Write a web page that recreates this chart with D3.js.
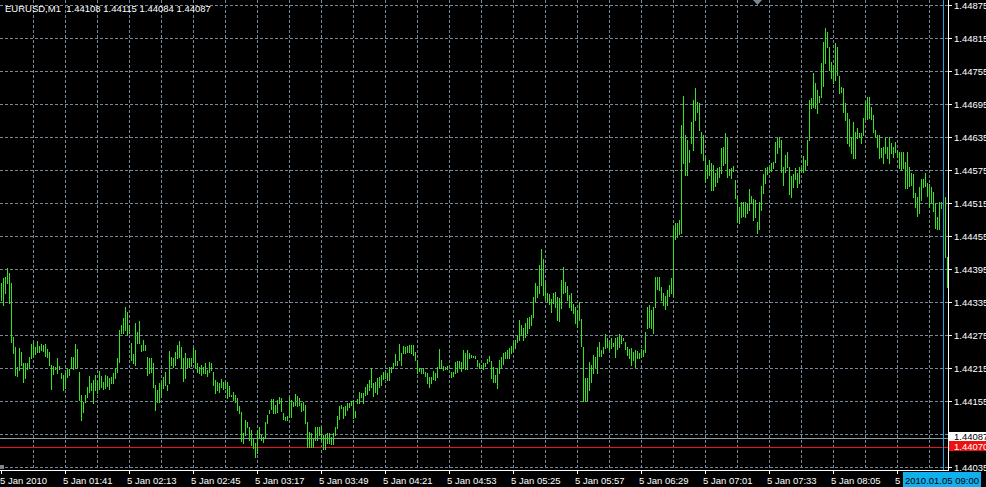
<!DOCTYPE html>
<html>
<head>
<meta charset="utf-8">
<script src="https://cdn.jsdelivr.net/npm/d3@7"></script>
<style>
  html, body { margin: 0; padding: 0; background: #000; overflow: hidden; }
  svg { display: block; }
  text { font-family: "Liberation Sans", Arial, sans-serif; font-size: 9.5px; }
</style>
</head>
<body>
<svg width="986" height="487"></svg>
<script>
// one minute bars, 5 Jan 2010 from 01:09
var highs = [
1.44370,1.44379,1.44381,1.44398,1.44389,1.44370,1.44272,1.44254,1.44218,1.44252,
1.44245,1.44225,1.44225,1.44225,1.44236,1.44260,1.44263,1.44254,1.44265,1.44256,
1.44260,1.44258,1.44260,1.44251,1.44245,1.44221,1.44220,1.44218,1.44234,1.44220,
1.44207,1.44203,1.44207,1.44216,1.44214,1.44236,1.44236,1.44260,1.44251,1.44209,
1.44167,1.44154,1.44167,1.44182,1.44202,1.44189,1.44194,1.44203,1.44192,1.44211,
1.44202,1.44191,1.44203,1.44202,1.44198,1.44200,1.44207,1.44216,1.44234,1.44285,
1.44294,1.44307,1.44327,1.44318,1.44294,1.44261,1.44241,1.44298,1.44281,1.44301,
1.44258,1.44267,1.44258,1.44236,1.44234,1.44234,1.44225,1.44185,1.44176,1.44189,
1.44191,1.44200,1.44209,1.44185,1.44247,1.44236,1.44234,1.44245,1.44258,1.44265,
1.44254,1.44234,1.44243,1.44234,1.44234,1.44234,1.44252,1.44249,1.44225,1.44218,
1.44221,1.44218,1.44225,1.44212,1.44227,1.44225,1.44209,1.44194,1.44191,1.44189,
1.44196,1.44191,1.44191,1.44191,1.44183,1.44167,1.44172,1.44167,1.44162,1.44147,
1.44136,1.44098,1.44122,1.44118,1.44109,1.44104,1.44089,1.44080,1.44104,1.44109,
1.44095,1.44091,1.44118,1.44131,1.44140,1.44160,1.44160,1.44149,1.44158,1.44163,
1.44162,1.44134,1.44127,1.44129,1.44163,1.44158,1.44154,1.44169,1.44165,1.44162,
1.44153,1.44154,1.44149,1.44118,1.44100,1.44098,1.44089,1.44109,1.44109,1.44109,
1.44109,1.44095,1.44095,1.44098,1.44098,1.44091,1.44098,1.44109,1.44129,1.44147,
1.44149,1.44145,1.44147,1.44153,1.44153,1.44156,1.44158,1.44138,1.44160,1.44172,
1.44171,1.44171,1.44182,1.44187,1.44194,1.44216,1.44189,1.44191,1.44198,1.44200,
1.44203,1.44209,1.44209,1.44207,1.44218,1.44218,1.44225,1.44241,1.44229,1.44260,
1.44243,1.44256,1.44254,1.44256,1.44258,1.44258,1.44258,1.44245,1.44231,1.44216,
1.44214,1.44216,1.44209,1.44207,1.44200,1.44200,1.44211,1.44207,1.44218,1.44251,
1.44231,1.44220,1.44218,1.44220,1.44220,1.44209,1.44209,1.44227,1.44229,1.44229,
1.44227,1.44249,1.44243,1.44249,1.44243,1.44240,1.44238,1.44238,1.44231,1.44225,
1.44221,1.44225,1.44225,1.44232,1.44238,1.44229,1.44218,1.44203,1.44216,1.44231,
1.44236,1.44243,1.44245,1.44249,1.44252,1.44256,1.44261,1.44267,1.44276,1.44303,
1.44294,1.44289,1.44298,1.44307,1.44309,1.44312,1.44345,1.44370,1.44365,1.44403,
1.44432,1.44414,1.44370,1.44352,1.44350,1.44341,1.44352,1.44354,1.44345,1.44343,
1.44376,1.44399,1.44372,1.44365,1.44349,1.44352,1.44332,1.44327,1.44321,1.44336,
1.44305,1.44254,1.44198,1.44198,1.44227,1.44221,1.44240,1.44236,1.44254,1.44263,
1.44249,1.44254,1.44278,1.44271,1.44263,1.44271,1.44261,1.44271,1.44272,1.44278,
1.44274,1.44271,1.44263,1.44254,1.44251,1.44252,1.44245,1.44249,1.44247,1.44243,
1.44251,1.44249,1.44281,1.44327,1.44330,1.44321,1.44327,1.44381,1.44381,1.44381,
1.44363,1.44352,1.44347,1.44358,1.44367,1.44379,1.44470,1.44479,1.44479,1.44485,
1.44657,1.44710,1.44639,1.44630,1.44612,1.44663,1.44703,1.44724,1.44699,1.44697,
1.44644,1.44639,1.44599,1.44584,1.44594,1.44588,1.44584,1.44570,1.44579,1.44581,
1.44615,1.44617,1.44643,1.44634,1.44577,1.44579,1.44583,1.44557,1.44528,1.44508,
1.44517,1.44517,1.44517,1.44516,1.44541,1.44528,1.44523,1.44521,1.44481,1.44517,
1.44546,1.44568,1.44579,1.44581,1.44581,1.44588,1.44590,1.44626,1.44634,1.44635,
1.44630,1.44581,1.44603,1.44608,1.44581,1.44565,1.44568,1.44579,1.44570,1.44581,
1.44579,1.44601,1.44594,1.44630,1.44703,1.44706,1.44752,1.44733,1.44721,1.44710,
1.44770,1.44808,1.44833,1.44826,1.44799,1.44771,1.44766,1.44806,1.44799,1.44746,
1.44726,1.44724,1.44697,1.44679,1.44668,1.44635,1.44663,1.44644,1.44652,1.44643,
1.44643,1.44670,1.44699,1.44708,1.44708,1.44690,1.44675,1.44648,1.44639,1.44639,
1.44615,1.44617,1.44634,1.44617,1.44635,1.44624,1.44617,1.44626,1.44612,1.44608,
1.44608,1.44608,1.44590,1.44608,1.44581,1.44570,1.44568,1.44534,1.44526,1.44545,
1.44559,1.44559,1.44570,1.44552,1.44550,1.44545,1.44536,1.44516,1.44490,1.44517,
1.44517,1.44512,1.44526,1.44418
];
var lows = [
1.44340,1.44330,1.44352,1.44370,1.44334,1.44263,1.44243,1.44203,1.44202,1.44212,
1.44221,1.44191,1.44198,1.44214,1.44216,1.44234,1.44236,1.44241,1.44245,1.44245,
1.44249,1.44247,1.44238,1.44236,1.44221,1.44178,1.44205,1.44214,1.44207,1.44214,
1.44198,1.44176,1.44180,1.44200,1.44203,1.44216,1.44214,1.44216,1.44218,1.44158,
1.44122,1.44136,1.44154,1.44163,1.44172,1.44176,1.44153,1.44176,1.44171,1.44178,
1.44182,1.44178,1.44180,1.44183,1.44178,1.44189,1.44189,1.44198,1.44209,1.44227,
1.44280,1.44280,1.44285,1.44276,1.44280,1.44231,1.44225,1.44221,1.44261,1.44261,
1.44247,1.44249,1.44249,1.44203,1.44207,1.44209,1.44182,1.44140,1.44154,1.44154,
1.44163,1.44180,1.44185,1.44176,1.44189,1.44221,1.44218,1.44221,1.44234,1.44236,
1.44218,1.44192,1.44198,1.44218,1.44218,1.44220,1.44227,1.44218,1.44209,1.44207,
1.44203,1.44207,1.44207,1.44202,1.44209,1.44212,1.44185,1.44171,1.44176,1.44172,
1.44182,1.44178,1.44180,1.44162,1.44165,1.44165,1.44158,1.44154,1.44140,1.44134,
1.44084,1.44080,1.44095,1.44109,1.44085,1.44076,1.44071,1.44055,1.44062,1.44089,
1.44086,1.44082,1.44089,1.44116,1.44134,1.44142,1.44134,1.44134,1.44136,1.44152,
1.44138,1.44124,1.44122,1.44122,1.44127,1.44127,1.44147,1.44149,1.44147,1.44149,
1.44138,1.44140,1.44116,1.44073,1.44073,1.44073,1.44073,1.44085,1.44085,1.44095,
1.44085,1.44069,1.44069,1.44080,1.44080,1.44078,1.44078,1.44095,1.44107,1.44124,
1.44143,1.44125,1.44131,1.44140,1.44145,1.44149,1.44125,1.44127,1.44153,1.44153,
1.44163,1.44153,1.44167,1.44169,1.44176,1.44182,1.44165,1.44172,1.44169,1.44182,
1.44185,1.44196,1.44198,1.44194,1.44194,1.44209,1.44216,1.44221,1.44221,1.44231,
1.44221,1.44243,1.44243,1.44245,1.44245,1.44243,1.44240,1.44231,1.44207,1.44211,
1.44207,1.44207,1.44202,1.44189,1.44182,1.44189,1.44196,1.44194,1.44200,1.44216,
1.44216,1.44212,1.44214,1.44214,1.44216,1.44200,1.44202,1.44207,1.44209,1.44216,
1.44211,1.44216,1.44214,1.44214,1.44234,1.44236,1.44236,1.44234,1.44220,1.44216,
1.44216,1.44214,1.44220,1.44225,1.44229,1.44198,1.44191,1.44191,1.44180,1.44207,
1.44216,1.44223,1.44234,1.44234,1.44234,1.44243,1.44247,1.44252,1.44263,1.44267,
1.44278,1.44267,1.44272,1.44280,1.44289,1.44294,1.44309,1.44338,1.44345,1.44352,
1.44367,1.44349,1.44341,1.44338,1.44332,1.44318,1.44334,1.44327,1.44303,1.44301,
1.44325,1.44352,1.44354,1.44340,1.44327,1.44321,1.44316,1.44298,1.44290,1.44303,
1.44256,1.44156,1.44156,1.44156,1.44176,1.44191,1.44207,1.44218,1.44207,1.44238,
1.44238,1.44243,1.44252,1.44254,1.44249,1.44252,1.44256,1.44236,1.44251,1.44254,
1.44261,1.44267,1.44251,1.44240,1.44234,1.44221,1.44231,1.44218,1.44234,1.44234,
1.44236,1.44238,1.44245,1.44289,1.44291,1.44289,1.44280,1.44327,1.44359,1.44358,
1.44340,1.44330,1.44323,1.44330,1.44347,1.44352,1.44347,1.44450,1.44454,1.44459,
1.44461,1.44588,1.44566,1.44566,1.44590,1.44624,1.44612,1.44666,1.44681,1.44648,
1.44606,1.44594,1.44554,1.44561,1.44566,1.44539,1.44539,1.44546,1.44554,1.44563,
1.44570,1.44584,1.44588,1.44563,1.44566,1.44561,1.44574,1.44525,1.44481,1.44479,
1.44490,1.44492,1.44490,1.44497,1.44503,1.44517,1.44485,1.44490,1.44461,1.44468,
1.44503,1.44534,1.44552,1.44568,1.44572,1.44574,1.44579,1.44590,1.44606,1.44617,
1.44572,1.44548,1.44572,1.44581,1.44532,1.44526,1.44545,1.44559,1.44545,1.44552,
1.44572,1.44572,1.44575,1.44584,1.44630,1.44688,1.44690,1.44688,1.44679,1.44699,
1.44708,1.44728,1.44770,1.44799,1.44757,1.44742,1.44733,1.44739,1.44748,1.44715,
1.44717,1.44681,1.44666,1.44624,1.44619,1.44606,1.44597,1.44597,1.44634,1.44635,
1.44624,1.44639,1.44668,1.44668,1.44670,1.44668,1.44644,1.44635,1.44617,1.44597,
1.44599,1.44588,1.44606,1.44597,1.44588,1.44606,1.44599,1.44608,1.44599,1.44579,
1.44575,1.44579,1.44543,1.44543,1.44546,1.44548,1.44526,1.44508,1.44492,1.44497,
1.44521,1.44545,1.44546,1.44528,1.44508,1.44517,1.44501,1.44470,1.44468,1.44468,
1.44506,1.44457,1.44418,1.44363
];

var priceTicks = [1.44035, 1.44095, 1.44155, 1.44215, 1.44275, 1.44335, 1.44395,
  1.44455, 1.44515, 1.44575, 1.44635, 1.44695, 1.44755, 1.44815, 1.44875];
var timeLabels = ["5 Jan 2010", "5 Jan 01:41", "5 Jan 02:13", "5 Jan 02:45", "5 Jan 03:17",
  "5 Jan 03:49", "5 Jan 04:21", "5 Jan 04:53", "5 Jan 05:25", "5 Jan 05:57", "5 Jan 06:29",
  "5 Jan 07:01", "5 Jan 07:33", "5 Jan 08:05", "5 Jan 08:37"];
var labelStep = 32;   // bars between time labels
var gridStep = 16;    // bars between vertical grid lines
var header = "EURUSD,M1  1.44108 1.44115 1.44084 1.44087";
var bidPrice = 1.44087;
var linePrice = 1.44070;
var cursorBar = 471;
var cursorLabel = "2010.01.05 09:00";

var svg = d3.select("svg"),
    width = +svg.attr("width"),
    height = +svg.attr("height");

var plotRight = 948, plotBottom = 470;
var gridColor = "#778899", barColor = "#35e321";

var x = d3.scaleLinear().domain([0, highs.length - 1]).range([1, 1 + 2 * (highs.length - 1)]);
var y = d3.scaleLinear().domain([1.44035, 1.44875]).range([467.7, 5]);

svg.append("rect").attr("width", width).attr("height", height).attr("fill", "#000");

// grid
var grid = svg.append("g").attr("shape-rendering", "crispEdges")
  .attr("stroke", gridColor).attr("stroke-dasharray", "3,2");

grid.selectAll("line.h")
  .data(priceTicks)
  .enter().append("line")
    .attr("class", "h")
    .attr("x1", 0).attr("x2", plotRight)
    .attr("y1", function(d) { return Math.floor(y(d)) + 0.5; })
    .attr("y2", function(d) { return Math.floor(y(d)) + 0.5; });

grid.selectAll("line.v")
  .data(d3.range(gridStep, highs.length, gridStep))
  .enter().append("line")
    .attr("class", "v")
    .attr("y1", 0).attr("y2", plotBottom)
    .attr("x1", function(d) { return x(d) + 0.5; })
    .attr("x2", function(d) { return x(d) + 0.5; });

// bid line and the red level
function levelY(p) { return Math.floor(y(p) - 1) + 0.5; }
svg.append("line").attr("shape-rendering", "crispEdges")
  .attr("x1", 0).attr("x2", plotRight)
  .attr("y1", levelY(bidPrice)).attr("y2", levelY(bidPrice))
  .attr("stroke", "#8d9aab");
svg.append("line").attr("shape-rendering", "crispEdges")
  .attr("x1", 0).attr("x2", plotRight)
  .attr("y1", levelY(linePrice)).attr("y2", levelY(linePrice))
  .attr("stroke", "#e8141a");

// bars
svg.append("g").attr("shape-rendering", "crispEdges")
  .selectAll("line")
  .data(highs)
  .enter().append("line")
    .attr("x1", function(d, i) { return x(i) + 0.5; })
    .attr("x2", function(d, i) { return x(i) + 0.5; })
    .attr("y1", function(d) { return Math.round(y(d)); })
    .attr("y2", function(d, i) { return Math.max(Math.round(y(lows[i])), Math.round(y(d)) + 1) + 1; })
    .attr("stroke", barColor);

// cursor line
svg.append("line").attr("shape-rendering", "crispEdges")
  .attr("x1", x(cursorBar) + 0.5).attr("x2", x(cursorBar) + 0.5)
  .attr("y1", 0).attr("y2", plotBottom)
  .attr("stroke", "#1aa6e0");

// shift marker
svg.append("path")
  .attr("d", d3.line()([[753, 0], [762, 0], [757.5, 5]]) + "Z")
  .attr("fill", gridColor);
svg.append("rect").attr("x", 0).attr("y", 465).attr("width", 4).attr("height", 4).attr("fill", "#7d8590");

// frame
svg.append("path").attr("shape-rendering", "crispEdges")
  .attr("d", "M0," + (plotBottom + 0.5) + "H" + (plotRight + 0.5) + "V0")
  .attr("fill", "none").attr("stroke", "#fff");

// price axis
var yAxis = svg.append("g");
yAxis.selectAll("line")
  .data(priceTicks)
  .enter().append("line").attr("shape-rendering", "crispEdges")
    .attr("x1", plotRight).attr("x2", plotRight + 4)
    .attr("y1", function(d) { return Math.floor(y(d)) + 0.5; })
    .attr("y2", function(d) { return Math.floor(y(d)) + 0.5; })
    .attr("stroke", "#fff");
yAxis.selectAll("text")
  .data(priceTicks)
  .enter().append("text")
    .attr("x", 954)
    .attr("y", function(d) { return y(d) + 3.5; })
    .attr("fill", "#fff")
    .text(function(d) { return d.toFixed(5); });

function priceTag(p, bg, fg, h) {
  var top = Math.floor(y(p)) - 7;
  svg.append("rect").attr("x", plotRight + 1).attr("y", top).attr("width", width - plotRight).attr("height", h).attr("fill", bg);
  svg.append("text").attr("x", 954).attr("y", top + h - 1).attr("fill", fg).text(p.toFixed(5));
}
priceTag(bidPrice, "#fff", "#000", 9);
priceTag(linePrice, "#ee1111", "#fff", 10);

// time axis
var xAxis = svg.append("g");
xAxis.selectAll("line")
  .data(timeLabels)
  .enter().append("line").attr("shape-rendering", "crispEdges")
    .attr("x1", function(d, i) { return x(i * labelStep) + 0.5; })
    .attr("x2", function(d, i) { return x(i * labelStep) + 0.5; })
    .attr("y1", plotBottom).attr("y2", plotBottom + 4)
    .attr("stroke", "#fff");
xAxis.selectAll("text")
  .data(timeLabels)
  .enter().append("text")
    .attr("x", function(d, i) { return Math.max(0, x(i * labelStep) - 2); })
    .attr("y", 483.5)
    .attr("fill", "#fff")
    .text(function(d) { return d; });

// cursor time tag
svg.append("rect").attr("x", 903).attr("y", 472).attr("width", 78).attr("height", 15).attr("fill", "#10b0ee");
svg.append("text").attr("x", 905).attr("y", 483.5).attr("fill", "#000").text(cursorLabel);

// header
svg.append("text")
  .attr("x", 5).attr("y", 12)
  .attr("fill", "#fff")
  .attr("xml:space", "preserve")
  .style("white-space", "pre")
  .text(header);
</script>
</body>
</html>
